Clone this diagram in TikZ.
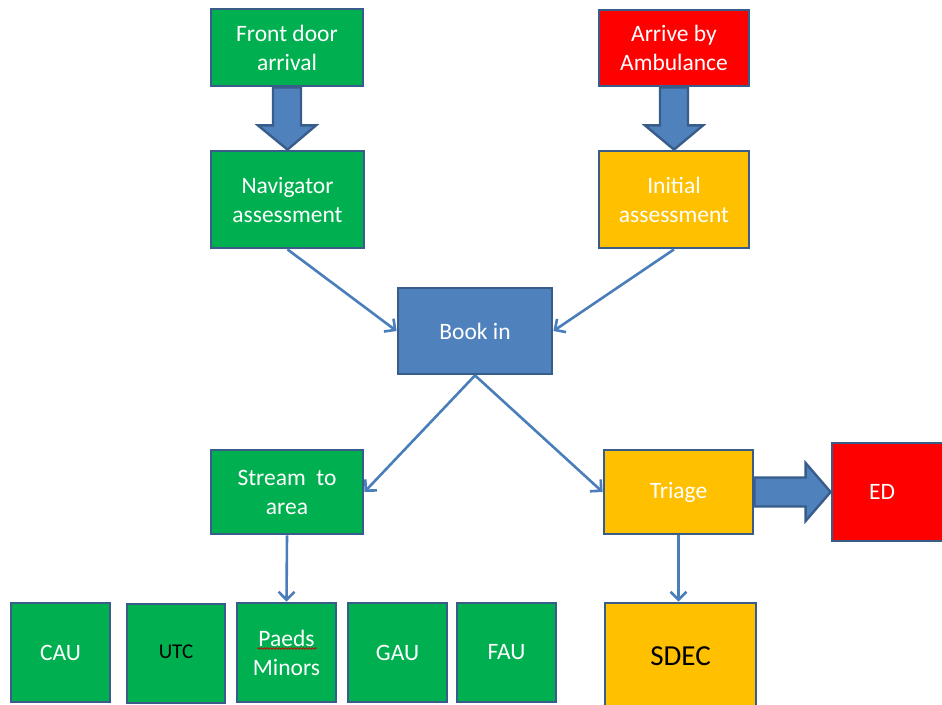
\documentclass[tikz,border=0pt]{standalone}
\usepackage{fontspec}
\setmainfont{Carlito}
\usetikzlibrary{arrows.meta,calc,decorations.pathmorphing}
\definecolor{cgreen}{HTML}{00B050}
\definecolor{cred}{HTML}{FF0000}
\definecolor{cgold}{HTML}{FFC000}
\definecolor{cblue}{HTML}{4F81BD}
\definecolor{cborder}{HTML}{385D8A}
\definecolor{cline}{HTML}{4A7EBB}
\tikzset{
  box/.style={draw=cborder, line width=2.8pt, inner sep=0pt, align=center,
    text=white, font=\fontsize{23.5}{29}\selectfont},
  gbox/.style={box, fill=cgreen},
  rbox/.style={box, fill=cred},
  obox/.style={box, fill=cgold},
  bbox/.style={box, fill=cblue},
  conn/.style={draw=cline, line width=2.6pt, -{Straight Barb[length=8pt,width=16pt,line width=2.6pt]}},
  blockarrow/.style={fill=cblue, draw=cborder, line width=2.4pt, line join=miter}
}
\begin{document}
\begin{tikzpicture}[x=1pt,y=-1pt]
\useasboundingbox (0,0) rectangle (942,704);
% nodes
\node[gbox, minimum width=152pt, minimum height=77pt] (fd) at (287,47.5) {Front door\\arrival};
\node[gbox, minimum width=153pt, minimum height=97pt] (nav) at (287.5,199.5) {Navigator\\assessment};
\node[rbox, minimum width=150pt, minimum height=76pt] (amb) at (674,48) {Arrive by\\Ambulance};
\node[obox, minimum width=150pt, minimum height=97pt] (init) at (674,199.5) {Initial\\assessment};
\node[bbox, minimum width=154pt, minimum height=86pt] (book) at (475,331) {Book in};
\node[gbox, minimum width=152pt, minimum height=84pt] (stream) at (287,492) {Stream\ \ to\\area};
\node[obox, minimum width=149pt, minimum height=84pt] (triage) at (678.5,492) {Triage};
\node[rbox, minimum width=116pt, minimum height=98pt] (ed) at (890,492) {};
\node[text=white, font=\fontsize{23.5}{29}\selectfont] (edt) at (882,492) {ED};
\node[obox, minimum width=151pt, minimum height=107pt, text=black, font=\fontsize{29}{34}\selectfont] (sdec) at (680.5,656.5) {\raisebox{-4pt}{SDEC}};
\node[gbox, minimum width=99pt, minimum height=99pt] (cau) at (60.5,652.5) {CAU};
\node[gbox, minimum width=98pt, minimum height=99pt, text=black, font=\fontsize{21}{24}\selectfont] (utc) at (176,653.5) {\raisebox{3pt}{UTC}};
\node[gbox, minimum width=99pt, minimum height=99pt] (paeds) at (286.5,652.5) {Paeds\\Minors};
\node[gbox, minimum width=99pt, minimum height=99pt] (gau) at (397.5,652.5) {GAU};
\node[gbox, minimum width=99pt, minimum height=99pt] (fau) at (506.5,652.5) {FAU};
% spell-check squiggle
\coordinate (sq1) at ($(paeds.center)+(-29,-4)$);
\coordinate (sq2) at ($(paeds.center)+(30,-4)$);
\draw[red!80!black, line width=0.7pt, decorate, decoration={snake, amplitude=0.8pt, segment length=3pt}] (sq1) -- (sq2);
% block arrows
\draw[blockarrow] ($(fd.south)+(-14,0)$) -- ($(fd.south)+(14,0)$) -- ($(fd.south)+(14,38)$) -- ($(fd.south)+(29,38)$)
  -- (nav.north) -- ($(fd.south)+(-29,38)$) -- ($(fd.south)+(-14,38)$) -- cycle;
\draw[blockarrow] ($(amb.south)+(-14,0)$) -- ($(amb.south)+(14,0)$) -- ($(amb.south)+(14,38)$) -- ($(amb.south)+(29,38)$)
  -- (init.north) -- ($(amb.south)+(-29,38)$) -- ($(amb.south)+(-14,38)$) -- cycle;
\draw[blockarrow] ($(triage.east)+(0,-14.5)$) -- ($(ed.west)+(-25,-14.5)$) -- ($(ed.west)+(-25,-29)$) -- (ed.west)
  -- ($(ed.west)+(-25,29)$) -- ($(ed.west)+(-25,14.5)$) -- ($(triage.east)+(0,14.5)$) -- cycle;
% thin connectors
\draw[conn] (nav.south) -- (book.west);
\draw[conn] (init.south) -- (book.east);
\draw[conn] (book.south) -- (stream.east);
\draw[conn] (book.south) -- (triage.west);
\draw[conn] (stream.south) -- (paeds.north);
\draw[conn] (triage.south) -- (triage.south |- sdec.north);
\end{tikzpicture}
\end{document}
